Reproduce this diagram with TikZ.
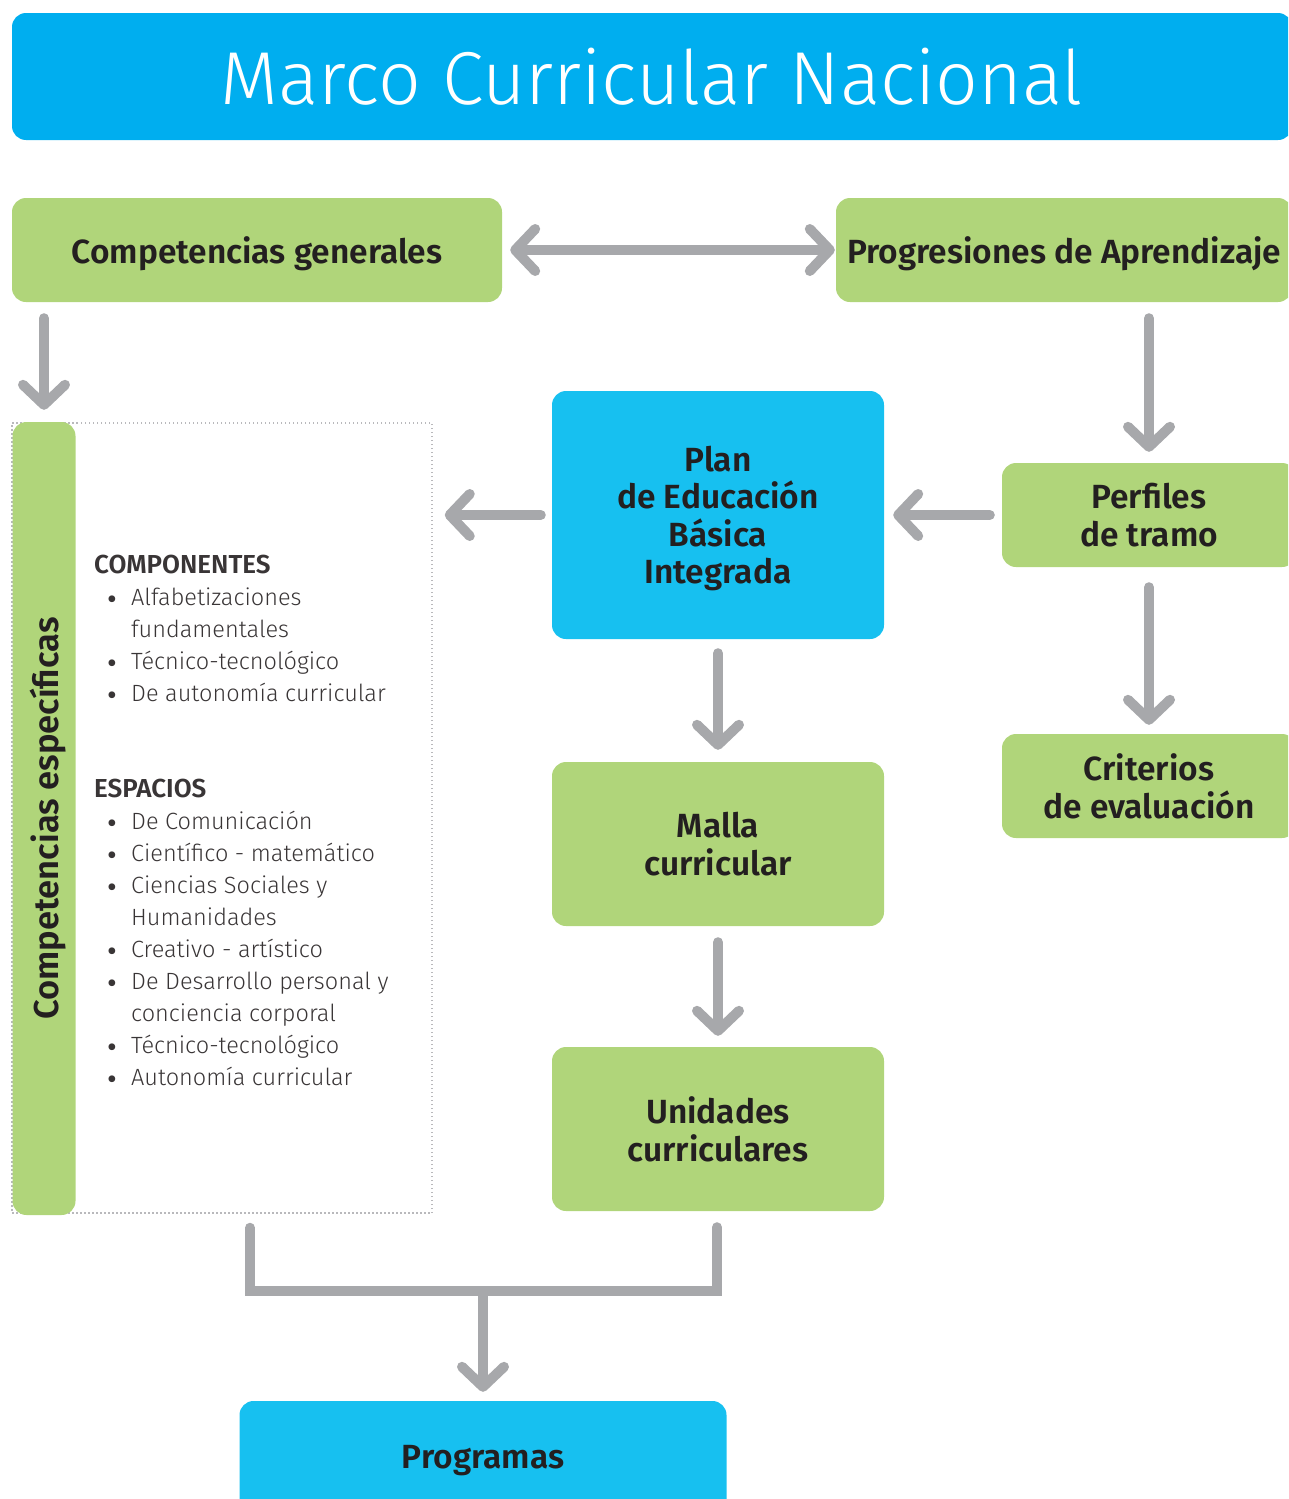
\documentclass[tikz,border=0pt]{standalone}
\usepackage{fontspec}
\setmainfont{Fira Sans}[BoldFont={Fira Sans SemiBold}]
\newfontfamily\lightfont{Fira Sans Light}
\usetikzlibrary{arrows.meta}

\definecolor{mcnblue}{HTML}{00AEEF}
\definecolor{boxblue}{HTML}{17C0F0}
\definecolor{boxgreen}{HTML}{B0D57A}
\definecolor{arrowgray}{HTML}{A7A8AB}
\definecolor{textdark}{HTML}{231F20}

\newcommand{\bitem}[1]{\makebox[37pt][l]{\hspace{13pt}{\rmfamily\fontsize{30}{30}\selectfont\raisebox{-4pt}{\textbullet}}}#1}
\newcommand{\bcont}[1]{\hspace*{37pt}#1}
\newcommand{\bhead}[1]{{\rmfamily\bfseries\fontsize{26}{32}\selectfont #1}}

\begin{document}
\begin{tikzpicture}[x=1pt, y=-1pt,
    box/.style={rounded corners=14pt, fill=boxgreen, text=textdark, align=center,
        font=\bfseries\fontsize{33.5}{37.5}\selectfont, inner sep=0pt, text depth=0pt},
    bluebox/.style={box, fill=boxblue},
    link/.style={draw=arrowgray, line width=10pt, line cap=round},
    arr/.style={link, -{Straight Barb[length=20pt, width=42pt, round]}},
    dblarr/.style={link, {Straight Barb[length=20pt, width=42pt, round]}-{Straight Barb[length=20pt, width=42pt, round]}}
]
    \useasboundingbox (0,0) rectangle (1288,1499);
    \clip (0,0) rectangle (1288,1499);

    \node[fill=mcnblue, rounded corners=14pt, minimum width=1280pt, minimum height=127pt,
        inner sep=0pt, text=white, font=\lightfont\fontsize{75}{75}\selectfont]
        (titulo) at (652,76.5) {Marco Curricular Nacional};

    \node[box, minimum width=490pt, minimum height=104pt] (cg) at (257,250) {Competencias generales};
    \node[box, minimum width=456pt, minimum height=104pt] (pa) at (1064,250) {Progresiones de Aprendizaje};

    \node[draw=arrowgray!80, line width=1.5pt, dash pattern=on 1.5pt off 2.5pt,
        minimum width=420pt, minimum height=790pt] (cebox) at (222,818) {};
    \node[box, rotate=90, minimum width=793pt, minimum height=63pt,
        font=\bfseries\fontsize{34.5}{37.5}\selectfont] (ce) at (44,818.5) {Competencias específicas};
    \node[anchor=north west, inner sep=0pt, align=left, text=textdark!90,
        font=\lightfont\fontsize{23.5}{32}\selectfont] (lista) at (94,555)
        {\bhead{COMPONENTES}\\
         \bitem{Alfabetizaciones}\\
         \bcont{fundamentales}\\
         \bitem{Técnico-tecnológico}\\
         \bitem{De autonomía curricular}\\[64pt]
         \bhead{ESPACIOS}\\
         \bitem{De Comunicación}\\
         \bitem{Científico - matemático}\\
         \bitem{Ciencias Sociales y}\\
         \bcont{Humanidades}\\
         \bitem{Creativo - artístico}\\
         \bitem{De Desarrollo personal y}\\
         \bcont{conciencia corporal}\\
         \bitem{Técnico-tecnológico}\\
         \bitem{Autonomía curricular}};

    \node[bluebox, minimum width=332pt, minimum height=248pt] (plan) at (718,515) {Plan\\de Educación\\Básica\\Integrada};
    \node[box, minimum width=294pt, minimum height=104pt] (pt) at (1149,515) {Perfiles\\de tramo};
    \node[box, minimum width=294pt, minimum height=104pt] (cr) at (1149,786) {Criterios\\de evaluación};
    \node[box, minimum width=332pt, minimum height=164pt] (mc) at (718,844) {Malla\\curricular};
    \node[box, minimum width=332pt, minimum height=164pt] (uc) at (718,1129) {Unidades\\curriculares};
    \node[bluebox, minimum width=487pt, minimum height=112pt] (prog) at (483,1457) {Programas};

    \draw[dblarr, shorten <=8pt, shorten >=1pt] (cg.east) -- (pa.west);
    \draw[arr, shorten <=16pt, shorten >=12pt] (cg.south -| ce.east) -- (ce.east);
    \draw[arr, shorten <=16pt, shorten >=11pt] (pt.north |- pa.south) -- (pt.north);
    \draw[arr, shorten <=12pt, shorten >=9pt] (pt.west) -- (plan.east);
    \draw[arr, shorten <=11pt, shorten >=12pt] (plan.west) -- (plan.west -| cebox.east);
    \draw[arr, shorten <=20pt, shorten >=9pt] (pt.south) -- (cr.north);
    \draw[arr, shorten <=14pt, shorten >=12pt] (plan.south) -- (mc.north);
    \draw[arr, shorten <=16pt, shorten >=11pt] (mc.south) -- (uc.north);

    \coordinate (j) at (483,1291);
    \draw[link, line join=miter] ([shift={(28,14)}]cebox.south) |- (j) -| ([shift={(-1,16)}]uc.south);
    \draw[arr, shorten >=9pt] (j) -- (prog.north);
\end{tikzpicture}
\end{document}
